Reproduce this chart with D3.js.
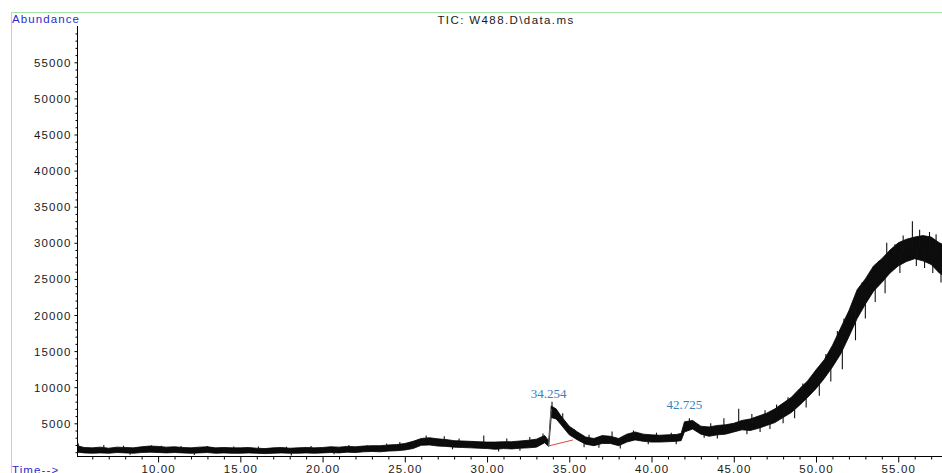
<!DOCTYPE html>
<html>
<meta charset="UTF-8" />
<script src="https://cdn.jsdelivr.net/npm/d3@7/dist/d3.min.js"></script>
<style>
*{margin:0; padding:0;}
body{background-color:#ffffff;}
.lab{font-family:"Liberation Sans",Arial,sans-serif; font-size:11.5px; letter-spacing:1.1px; fill:#1a1a1a;}
</style>
<body>
<div id="svgcontainer"></div>
<script>
// retention time (min) and the low / high edge of the noisy TIC trace
var times = [
	5.1, 5.5, 6.0, 6.5, 7.0, 7.5, 8.0, 8.5, 9.0, 9.5,
	10.0, 10.5, 11.0, 11.5, 12.0, 12.5, 13.0, 13.5, 14.0, 14.5,
	15.0, 15.5, 16.0, 16.5, 17.0, 17.5, 18.0, 18.5, 19.0, 19.5,
	20.0, 20.5, 21.0, 21.5, 22.0, 22.5, 23.0, 23.5, 24.0, 24.5,
	25.0, 25.5, 26.0, 26.5, 27.0, 27.5, 28.0, 28.5, 29.0, 29.5,
	30.0, 30.5, 31.0, 31.5, 32.0, 32.5, 33.0, 33.5, 33.75, 33.9,
	34.2, 34.5, 35.0, 35.5, 36.0, 36.5, 37.0, 37.5, 38.0, 38.5,
	39.0, 39.5, 40.0, 40.5, 41.0, 41.5, 41.8, 42.0, 42.5, 43.0,
	43.5, 44.0, 44.5, 45.0, 45.5, 46.0, 46.5, 47.0, 47.5, 48.0,
	48.5, 49.0, 49.5, 50.0, 50.5, 51.0, 51.5, 52.0, 52.5, 53.0,
	53.5, 54.0, 54.5, 55.0, 55.5, 56.0, 56.5, 57.0, 57.5, 57.7
];
var lowAbund = [
	1000, 900, 850, 900, 850, 950, 900, 850, 950, 1000,
	950, 900, 950, 900, 850, 900, 950, 850, 900, 850,
	850, 900, 850, 800, 850, 900, 850, 850, 900, 850,
	900, 950, 900, 1000, 950, 1050, 1100, 1050, 1150, 1200,
	1300, 1500, 1950, 2000, 1850, 1800, 1700, 1650, 1600, 1550,
	1500, 1400, 1500, 1450, 1550, 1600, 1700, 2300, 1800, 5800,
	5600, 4800, 3400, 2700, 2100, 1900, 2200, 2200, 1900, 2400,
	2700, 2500, 2400, 2400, 2450, 2500, 2600, 3800, 4200, 3500,
	3200, 3400, 3500, 3800, 4100, 4000, 4300, 4700, 5100, 5800,
	6500, 7500, 8600, 9800, 11200, 12800, 14600, 17000, 19500, 21500,
	23300, 24500, 25800, 26800, 27400, 27800, 27500, 27000, 25800, 25500
];
var highAbund = [
	1900, 1650, 1600, 1700, 1550, 1700, 1650, 1600, 1750, 1850,
	1800, 1700, 1750, 1650, 1600, 1700, 1750, 1600, 1650, 1600,
	1600, 1650, 1550, 1500, 1600, 1650, 1550, 1600, 1650, 1600,
	1650, 1750, 1700, 1800, 1750, 1850, 1900, 1900, 2000, 2050,
	2200, 2500, 2900, 3000, 2850, 2750, 2600, 2550, 2500, 2450,
	2400, 2400, 2450, 2450, 2550, 2650, 2800, 3300, 2600, 7400,
	7000, 6000, 4600, 3800, 3100, 2900, 3300, 3200, 2900, 3500,
	3800, 3500, 3400, 3350, 3400, 3450, 3600, 5200, 5400, 4600,
	4500, 4700, 4800, 5000, 5400, 5600, 6000, 6400, 7000, 7800,
	8600, 9800, 10900, 12400, 13800, 15800, 18200, 20600, 23500, 25000,
	26800, 27800, 29000, 30000, 30500, 30800, 31000, 30800, 30000, 29800
];
// single scans that stick out of the trace (up and down)
var spikeTimes = [
	5.15, 6.7, 7.9, 8.3, 9.6, 10.2, 11.4, 12.2, 13.0, 14.6, 16.1, 17.8, 18.1, 19.3, 20.7, 21.6, 22.7, 23.9, 24.7,
	26.3, 27.4, 27.9, 28.3, 29.8, 30.7, 31.2, 32.0, 32.6, 33.4,
	33.95, 34.6, 35.3, 35.9, 36.2, 36.8, 37.6, 38.1, 38.9, 39.8, 40.3, 41.2, 41.5, 42.3, 43.2, 43.6, 44.0, 44.4, 45.3,
	45.8, 46.1, 46.6, 46.9, 47.2, 47.6, 48.0, 48.3, 48.7, 49.2, 49.4, 49.8, 50.2, 50.6, 50.9, 51.3, 51.6, 51.7,
	52.2, 52.4, 52.8, 53.0, 53.3, 53.6, 53.8, 54.2, 54.3, 54.8, 55.1, 55.3, 55.86, 56.1, 56.3, 56.6, 56.9, 57.1, 57.3, 57.6
];
var spikeAbund = [
	2200, 2000, 1900, 650, 1950, 1900, 1850, 600, 1850, 1800, 1800, 1750, 550, 1850, 700, 2000, 1950, 2200, 2400,
	3300, 3200, 1400, 2900, 3300, 1100, 2900, 1200, 3100, 3600,
	8000, 6400, 4200, 1700, 3400, 1600, 3850, 1500, 4000, 2100, 3700, 3700, 2100, 5700, 3000, 5000, 2900, 5700, 7000,
	3500, 6300, 3800, 6800, 4200, 7600, 5000, 8600, 5700, 10500, 7200, 11500, 8800, 14600, 10800, 17800, 12500, 19500,
	21500, 16500, 24500, 19500, 26000, 21800, 27500, 23000, 30000, 29800, 25800, 31000, 33000, 26800, 31800, 26500, 31500, 25800, 31200, 24500
];

// integrated peaks
var peakLabels     = ["34.254", "42.725"];
var peakLabelTimes = [33.75, 42.0];
var peakLabelAbund = [8500, 7000];
var baseStart = [33.74, 1860];
var baseEnd   = [35.22, 2690];
var apex      = [33.9, 7000];

var xMajor = [10, 15, 20, 25, 30, 35, 40, 45, 50, 55];
var xMinor = [6,7,8,9,11,12,13,14,16,17,18,19,21,22,23,24,26,27,28,29,31,32,33,34,36,37,38,39,41,42,43,44,46,47,48,49,51,52,53,54,56,57];
var yMajor = [5000, 10000, 15000, 20000, 25000, 30000, 35000, 40000, 45000, 50000, 55000];

var width = 942;
var height = 473;
var svg = d3.select("#svgcontainer")
.append("svg")
.attr("width", width)
.attr("height", height);

var x = d3.scaleLinear().domain([5.07, 57.66]).range([77, 942]);
var y = d3.scaleLinear().domain([0, 60000]).range([459.4, 26.2]);
var axisY = 456.5;

// green frame
svg.append("rect")
.attr("x", 11.5).attr("y", 12.5)
.attr("width", 960).attr("height", 480)
.attr("fill", "none")
.style("stroke", "#a6e3a6")
.style("stroke-width", 1);

svg.append("clipPath").attr("id", "plotclip")
.append("rect").attr("x", 77).attr("y", 20).attr("width", 870).attr("height", 436);

// trace
var pts = times.map(function(t, i){ return {t:t, lo:lowAbund[i], hi:highAbund[i]}; });
var area = d3.area()
.x(function(d){ return x(d.t); })
.y0(function(d){ return y(d.lo); })
.y1(function(d){ return y(d.hi); });

var g = svg.append("g").attr("clip-path", "url(#plotclip)");

g.append("path")
.datum(pts)
.attr("d", area)
.attr("fill", "#0c0c0c")
.style("stroke", "#000")
.style("stroke-width", 0.8);

function midAt(t)
{
	var i = d3.bisectLeft(times, t);
	if(i<=0) i=1;
	if(i>=times.length) i=times.length-1;
	var a = (lowAbund[i-1]+highAbund[i-1])/2;
	var b = (lowAbund[i]+highAbund[i])/2;
	var f = (t-times[i-1])/(times[i]-times[i-1]);
	return a + (b-a)*f;
}

for(var i=0;i<spikeTimes.length;i++){
	g.append("line")
	.attr("x1", x(spikeTimes[i])).attr("x2", x(spikeTimes[i]))
	.attr("y1", y(midAt(spikeTimes[i]))).attr("y2", y(spikeAbund[i]))
	.style("stroke", "#111")
	.style("stroke-width", 1.1);
}

// integration baseline of first peak
g.append("line")
.attr("x1", x(baseStart[0])).attr("y1", y(baseStart[1]))
.attr("x2", x(apex[0])).attr("y2", y(apex[1]))
.style("stroke", "#888").style("stroke-width", 0.8);
g.append("line")
.attr("x1", x(baseStart[0])).attr("y1", y(baseStart[1]))
.attr("x2", x(baseEnd[0])).attr("y2", y(baseEnd[1]))
.style("stroke", "#d94848").style("stroke-width", 1);

for(var i=0;i<peakLabels.length;i++){
	svg.append("text")
	.attr("x", x(peakLabelTimes[i]))
	.attr("y", y(peakLabelAbund[i]))
	.attr("text-anchor", "middle")
	.style("font-family", "'Liberation Serif','Times New Roman',serif")
	.style("font-size", "13px")
	.style("fill", "#3b82b8")
	.text(peakLabels[i]);
}

// y axis
svg.append("line")
.attr("x1", 77.5).attr("x2", 77.5)
.attr("y1", 26).attr("y2", axisY)
.style("stroke", "#000").style("stroke-width", 1);

var yMinor = [];
for(var v=1000; v<60000; v+=1000) if(v%5000!=0) yMinor.push(v);

var yax = svg.append("g").attr("transform", "translate(77.5,0)")
.call(d3.axisLeft(y).tickValues(yMajor).tickSize(3).tickPadding(3).tickFormat(d3.format("d")));
yax.select(".domain").remove();
yax.selectAll("text").attr("class", "lab").attr("font-family", null).attr("font-size", null).attr("dy", "0.35em");
yax.selectAll("line").style("stroke", "#000");

var yminax = svg.append("g").attr("transform", "translate(77.5,0)")
.call(d3.axisLeft(y).tickValues(yMinor).tickSize(2).tickFormat(""));
yminax.select(".domain").remove();
yminax.selectAll("line").style("stroke", "#000");

// x axis
svg.append("line")
.attr("x1", 77).attr("x2", 942)
.attr("y1", axisY).attr("y2", axisY)
.style("stroke", "#000").style("stroke-width", 1);

var xax = svg.append("g").attr("transform", "translate(0," + axisY + ")")
.call(d3.axisBottom(x).tickValues(xMajor).tickSize(6).tickPadding(2).tickFormat(d3.format(".2f")));
xax.select(".domain").remove();
xax.selectAll("text").attr("class", "lab").attr("font-family", null).attr("font-size", null).attr("dy", "0.71em");
xax.selectAll("line").style("stroke", "#000");

var xminax = svg.append("g").attr("transform", "translate(0," + axisY + ")")
.call(d3.axisBottom(x).tickValues(xMinor).tickSize(3).tickFormat(""));
xminax.select(".domain").remove();
xminax.selectAll("line").style("stroke", "#000");

// titles
svg.append("text").attr("class", "lab")
.attr("x", 12).attr("y", 23)
.style("fill", "#2b2bd0")
.text("Abundance");

svg.append("text").attr("class", "lab")
.attr("x", 12).attr("y", 474)
.style("fill", "#2b2bd0")
.text("Time-->");

svg.append("text").attr("class", "lab")
.attr("x", 506).attr("y", 24)
.attr("text-anchor", "middle")
.style("letter-spacing", "1.4px")
.text("TIC: W488.D\\data.ms");
</script>
</body>
</html>
